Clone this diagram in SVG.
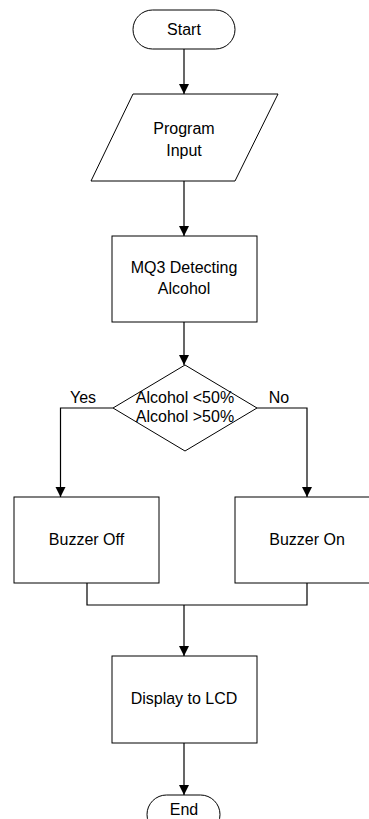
<svg xmlns="http://www.w3.org/2000/svg" width="369" height="819" viewBox="0 0 369 819">
<style>
.s{fill:#fff;stroke:#000;stroke-width:1}
.t{font-family:"Liberation Sans",Arial,sans-serif;font-size:16px;fill:#000;text-anchor:middle}
.c{fill:none;stroke:#000;stroke-width:1.2}
</style>
<defs>
<marker id="ah" viewBox="0 0 10 12" refX="10" refY="6" markerWidth="10" markerHeight="12" markerUnits="userSpaceOnUse" orient="auto">
<path d="M0,1 L10,6 L0,11 Z" fill="#000"/>
</marker>
</defs>
<rect width="369" height="819" fill="#fff"/>
<g id="connectors">
<line class="c" x1="184" y1="49" x2="184" y2="94" marker-end="url(#ah)"/>
<line class="c" x1="184" y1="181" x2="184" y2="236" marker-end="url(#ah)"/>
<line class="c" x1="184" y1="322" x2="184" y2="365" marker-end="url(#ah)"/>
<polyline class="c" points="113,408 60.5,408 60.5,497" marker-end="url(#ah)"/>
<polyline class="c" points="257,408 307,408 307,497" marker-end="url(#ah)"/>
<polyline class="c" points="87,583 87,605 307,605 307,583"/>
<line class="c" x1="184" y1="605" x2="184" y2="656" marker-end="url(#ah)"/>
<line class="c" x1="184" y1="743" x2="184" y2="795" marker-end="url(#ah)"/>
<text class="t" x="83" y="403">Yes</text>
<text class="t" x="279" y="403">No</text>
</g>
<g id="start">
<rect class="s" x="133" y="10" width="102" height="39" rx="19.5" ry="19.5"/>
<text class="t" x="184" y="35">Start</text>
</g>
<g id="input">
<polygon class="s" points="133,94 278,94 235,181 91,181"/>
<text class="t" x="184" y="134">Program</text>
<text class="t" x="184" y="156">Input</text>
</g>
<g id="detect">
<rect class="s" x="112" y="236" width="145" height="86"/>
<text class="t" x="184" y="273">MQ3 Detecting</text>
<text class="t" x="184" y="294">Alcohol</text>
</g>
<g id="decision">
<polygon class="s" points="185,365 257,408 185,451 113,408"/>
<text class="t" x="185" y="403">Alcohol &lt;50%</text>
<text class="t" x="185" y="422">Alcohol &gt;50%</text>
</g>
<g id="buzzer-off">
<rect class="s" x="14" y="497" width="145" height="86"/>
<text class="t" x="86.5" y="545">Buzzer Off</text>
</g>
<g id="buzzer-on">
<rect class="s" x="235" y="497" width="145" height="86"/>
<text class="t" x="307" y="545">Buzzer On</text>
</g>
<g id="display">
<rect class="s" x="112" y="656" width="145" height="87"/>
<text class="t" x="184" y="704">Display to LCD</text>
</g>
<g id="end">
<rect class="s" x="147" y="795" width="73" height="39" rx="19.5" ry="19.5"/>
<text class="t" x="184" y="815">End</text>
</g>
</svg>
